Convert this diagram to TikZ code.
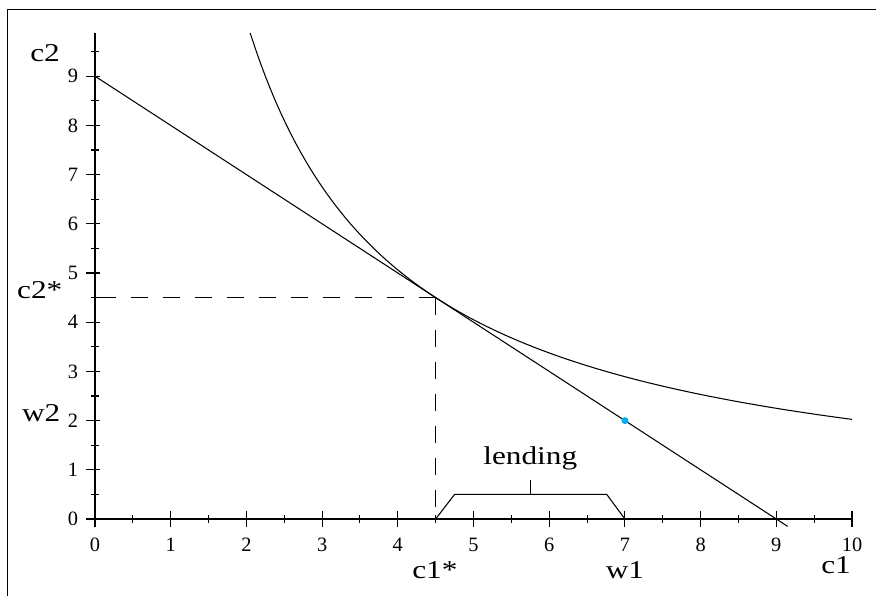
\documentclass[tikz,border=0pt]{standalone}
\usepackage{fontspec}
\setmainfont{Liberation Serif}
\newfontfamily\widefont[FakeStretch=1.22]{Liberation Serif}
\usetikzlibrary{positioning}
\tikzset{
  axis/.style={line width=0.6pt},
  curve/.style={line width=0.6pt},
  guide/.style={line width=0.6pt, dash pattern=on 0.34cm off 0.3cm},
  ticklabel/.style={font=\fontsize{11.6}{13}\selectfont, inner sep=0pt},
  axlabel/.style={font=\widefont\fontsize{14.6}{16}\selectfont, inner sep=0pt, anchor=base},
  dot/.style={circle, fill=cyan, inner sep=0pt, minimum size=0.14cm}
}

\begin{document}
\begin{tikzpicture}[x=1.514cm,y=0.984cm]

% Page size
\useasboundingbox (-1.255,-1.565) rectangle (10.317,10.549);

% Frame (top and left edges only)
\draw[line width=0.8pt] (-1.156,-1.565) -- (-1.156,10.36) -- (10.317,10.36);

% Axes
\coordinate (O) at (0,0);
\coordinate (Xend) at (10,0);
\coordinate (Yend) at (0,9.87);
\draw[axis] (O) -- (Xend);
\draw[axis] (O) -- (Yend);

% Ticks on c1 axis
\foreach \i in {0,...,10} {
  \draw[axis] (\i,-0.163) -- (\i,0.163);
  \node[ticklabel, anchor=north] (xt\i) at (\i,-0.386) {\i};
}
\foreach \i in {0.5,1.5,...,9.5}
  \draw[axis] (\i,-0.081) -- (\i,0.081);

% Ticks on c2 axis
\foreach \j in {0,...,9} {
  \draw[axis] (-0.12,\j) -- (0.07,\j);
  \node[ticklabel, anchor=east] (yt\j) at (-0.22,\j) {\j};
}
\foreach \j in {0.5,1.5,...,9.5}
  \draw[axis] (-0.053,\j) -- (0.053,\j);

% Axis labels
\node[axlabel] (C2) at (-0.66,9.29) {c2};
\node[axlabel] (C1) at (9.79,-1.10) {c1};

% Budget line and indifference curve
\coordinate (B0) at (0,9);
\coordinate (B1) at (9.15,-0.15);
\coordinate (T) at (4.5,4.5);
\draw[curve] (B0) -- (B1);
\draw[curve] plot[domain=2.05:10, samples=120] (\x,{20.25/\x});

% Optimum: dashed guides
\coordinate (Ty) at (0,4.5);
\coordinate (Tx) at (4.5,0);
\draw[guide] (T) -- (Ty);
\draw[guide] (T) -- (Tx);
\node[axlabel] (C2s) at (-0.73,4.49) {c2*};
\node[axlabel] (C1s) at (4.49,-1.21) {c1*};

% Endowment
\node[dot] (W) at (7,2) {};
\node[axlabel] (W2) at (-0.71,1.98) {w2};
\node[axlabel] (W1) at (7.0,-1.21) {w1};

% Lending bracket
\coordinate (L0) at (4.75,0.5);
\coordinate (L1) at (6.76,0.5);
\coordinate (Lm) at (5.75,0.5);
\coordinate (E1) at (7,0);
\node[axlabel] (Lend) at (5.75,1.10) {lending};
\draw[curve] (Tx) -- (L0) -- (L1) -- (E1);
\draw[curve] (Lm) -- ++(0,0.3);

\end{tikzpicture}
\end{document}
